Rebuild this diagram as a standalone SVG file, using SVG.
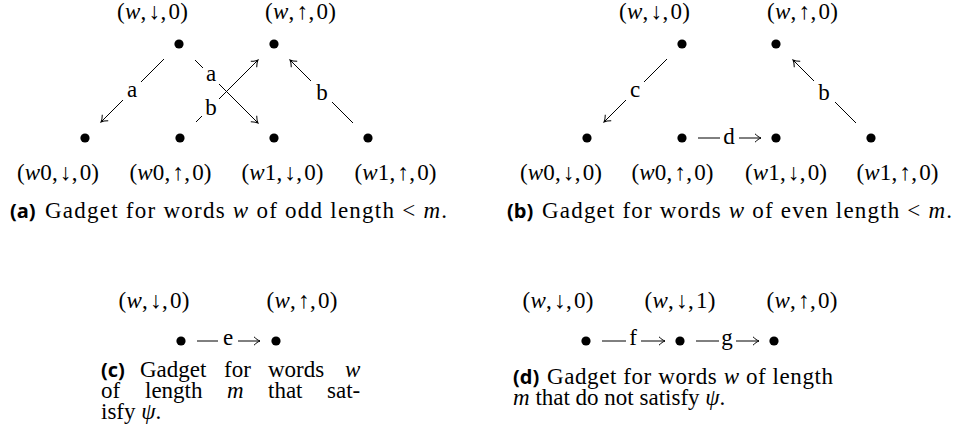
<svg xmlns="http://www.w3.org/2000/svg" width="962" height="446" viewBox="0 0 962 446">
<style>
text{font-family:"Liberation Serif","Times New Roman",serif;font-size:23px;fill:#000}
.lab{text-anchor:middle}
.it{font-style:italic}
.cap{font-family:"Open Sans","DejaVu Sans",sans-serif;font-weight:700;font-size:20px}
.dot{fill:#000}
.e{stroke:#000;stroke-width:1;fill:none}
.ea{stroke:#000;stroke-width:1;fill:none;marker-end:url(#ah)}
</style>
<defs>
<marker id="ah" markerUnits="userSpaceOnUse" viewBox="-8 -6 10 12" markerWidth="10" markerHeight="12" refX="0" refY="0" orient="auto" overflow="visible">
<path d="M-6,-4.2 C-4,-2.2 -1.8,-0.6 0,0 C-1.8,0.6 -4,2.2 -6,4.2" stroke="#000" stroke-width="1" fill="none"/>
</marker>
</defs>
<rect width="962" height="446" fill="#fff"/>

<!-- Panel (a) -->
<g id="a-w-down-0"><circle class="dot" cx="179" cy="44" r="4.6"/><text class="lab" x="152.5" y="19" textLength="71" lengthAdjust="spacing">(<tspan class="it">w</tspan>,&#x200A;↓,&#x200A;0)</text></g>
<g id="a-w-up-0"><circle class="dot" cx="274" cy="44" r="4.6"/><text class="lab" x="300.5" y="19" textLength="71" lengthAdjust="spacing">(<tspan class="it">w</tspan>,&#x200A;↑,&#x200A;0)</text></g>
<g id="a-w0-down-0"><circle class="dot" cx="85" cy="138" r="4.6"/><text class="lab" x="58" y="180" textLength="82" lengthAdjust="spacing">(<tspan class="it">w</tspan>0,&#x200A;↓,&#x200A;0)</text></g>
<g id="a-w0-up-0"><circle class="dot" cx="180" cy="138" r="4.6"/><text class="lab" x="170.5" y="180" textLength="82" lengthAdjust="spacing">(<tspan class="it">w</tspan>0,&#x200A;↑,&#x200A;0)</text></g>
<g id="a-w1-down-0"><circle class="dot" cx="274" cy="138" r="4.6"/><text class="lab" x="282.5" y="180" textLength="82" lengthAdjust="spacing">(<tspan class="it">w</tspan>1,&#x200A;↓,&#x200A;0)</text></g>
<g id="a-w1-up-0"><circle class="dot" cx="368" cy="138" r="4.6"/><text class="lab" x="395.5" y="180" textLength="82" lengthAdjust="spacing">(<tspan class="it">w</tspan>1,&#x200A;↑,&#x200A;0)</text></g>

<!-- Panel (b) -->
<g id="b-w-down-0"><circle class="dot" cx="682" cy="44" r="4.6"/><text class="lab" x="654.5" y="19" textLength="71" lengthAdjust="spacing">(<tspan class="it">w</tspan>,&#x200A;↓,&#x200A;0)</text></g>
<g id="b-w-up-0"><circle class="dot" cx="776" cy="44" r="4.6"/><text class="lab" x="802.5" y="19" textLength="71" lengthAdjust="spacing">(<tspan class="it">w</tspan>,&#x200A;↑,&#x200A;0)</text></g>
<g id="b-w0-down-0"><circle class="dot" cx="587" cy="138" r="4.6"/><text class="lab" x="561" y="180" textLength="82" lengthAdjust="spacing">(<tspan class="it">w</tspan>0,&#x200A;↓,&#x200A;0)</text></g>
<g id="b-w0-up-0"><circle class="dot" cx="682" cy="138" r="4.6"/><text class="lab" x="672.5" y="180" textLength="82" lengthAdjust="spacing">(<tspan class="it">w</tspan>0,&#x200A;↑,&#x200A;0)</text></g>
<g id="b-w1-down-0"><circle class="dot" cx="776" cy="138" r="4.6"/><text class="lab" x="786" y="180" textLength="82" lengthAdjust="spacing">(<tspan class="it">w</tspan>1,&#x200A;↓,&#x200A;0)</text></g>
<g id="b-w1-up-0"><circle class="dot" cx="871" cy="138" r="4.6"/><text class="lab" x="897.5" y="180" textLength="82" lengthAdjust="spacing">(<tspan class="it">w</tspan>1,&#x200A;↑,&#x200A;0)</text></g>

<!-- Panel (c) -->
<g id="c-w-down-0"><circle class="dot" cx="181" cy="341" r="4.6"/><text class="lab" x="154" y="308" textLength="71" lengthAdjust="spacing">(<tspan class="it">w</tspan>,&#x200A;↓,&#x200A;0)</text></g>
<g id="c-w-up-0"><circle class="dot" cx="276" cy="341" r="4.6"/><text class="lab" x="302" y="308" textLength="71" lengthAdjust="spacing">(<tspan class="it">w</tspan>,&#x200A;↑,&#x200A;0)</text></g>

<!-- Panel (d) -->
<g id="d-w-down-0"><circle class="dot" cx="586" cy="341" r="4.6"/><text class="lab" x="558" y="308" textLength="71" lengthAdjust="spacing">(<tspan class="it">w</tspan>,&#x200A;↓,&#x200A;0)</text></g>
<g id="d-w-down-1"><circle class="dot" cx="680" cy="341" r="4.6"/><text class="lab" x="680" y="308" textLength="71" lengthAdjust="spacing">(<tspan class="it">w</tspan>,&#x200A;↓,&#x200A;1)</text></g>
<g id="d-w-up-0"><circle class="dot" cx="774" cy="341" r="4.6"/><text class="lab" x="802" y="308" textLength="71" lengthAdjust="spacing">(<tspan class="it">w</tspan>,&#x200A;↑,&#x200A;0)</text></g>

<g id="connectors">
<!-- (a) -->
<path class="e" d="M164,59 L141,82"/><path class="ea" d="M123,100 L101,122"/><text class="lab" x="132" y="97">a</text>
<path class="e" d="M195,60 L203,68"/><path class="ea" d="M219,84 L258,123"/><text class="lab" x="211" y="81">a</text>
<path class="e" d="M196,122 L202,116"/><path class="ea" d="M219,99 L258,60"/><text class="lab" x="211" y="115">b</text>
<path class="e" d="M353,123 L332,102"/><path class="ea" d="M311,81 L290,60"/><text class="lab" x="322" y="100">b</text>
<!-- (b) -->
<path class="e" d="M667,59 L644,82"/><path class="ea" d="M626,100 L604,122"/><text class="lab" x="635" y="97">c</text>
<path class="e" d="M856,123 L835,102"/><path class="ea" d="M814,81 L793,60"/><text class="lab" x="824" y="100">b</text>
<path class="e" d="M698,138 L720,138"/><path class="ea" d="M739,138 L761,138"/><text class="lab" x="729" y="144">d</text>
<!-- (c) -->
<path class="e" d="M197,341 L218,341"/><path class="ea" d="M238,341 L260,341"/><text class="lab" x="228" y="345">e</text>
<!-- (d) -->
<path class="e" d="M602,341 L626,341"/><path class="ea" d="M641,341 L665,341"/><text class="lab" x="633" y="345">f</text>
<path class="e" d="M696,341 L719,341"/><path class="ea" d="M736,341 L759,341"/><text class="lab" x="727" y="345">g</text>
</g>

<!-- Captions -->
<g id="caption-a"><text class="cap" x="10" y="218">(a)</text><text x="45" y="218" textLength="402" lengthAdjust="spacing">Gadget for words <tspan class="it">w</tspan> of odd length &lt; <tspan class="it">m</tspan>.</text></g>
<g id="caption-b"><text class="cap" x="507" y="218">(b)</text><text x="542" y="218" textLength="410" lengthAdjust="spacing">Gadget for words <tspan class="it">w</tspan> of even length &lt; <tspan class="it">m</tspan>.</text></g>
<g id="caption-c">
<text class="cap" x="101" y="377">(c)</text><text x="140" y="377">Gadget</text><text x="224" y="377">for</text><text x="268" y="377">words</text><text class="it" x="345" y="377">w</text>
<text x="101" y="398">of</text><text x="145" y="398">length</text><text class="it" x="227" y="398">m</text><text x="268" y="398">that</text><text x="327" y="398">sat-</text>
<text x="101" y="419">isfy <tspan class="it">ψ</tspan>.</text>
</g>
<g id="caption-d">
<text class="cap" x="513" y="384">(d)</text><text x="547" y="384" textLength="286" lengthAdjust="spacing">Gadget for words <tspan class="it">w</tspan> of length</text>
<text x="513" y="405"><tspan class="it">m</tspan> that do not satisfy <tspan class="it">ψ</tspan>.</text>
</g>
</svg>
